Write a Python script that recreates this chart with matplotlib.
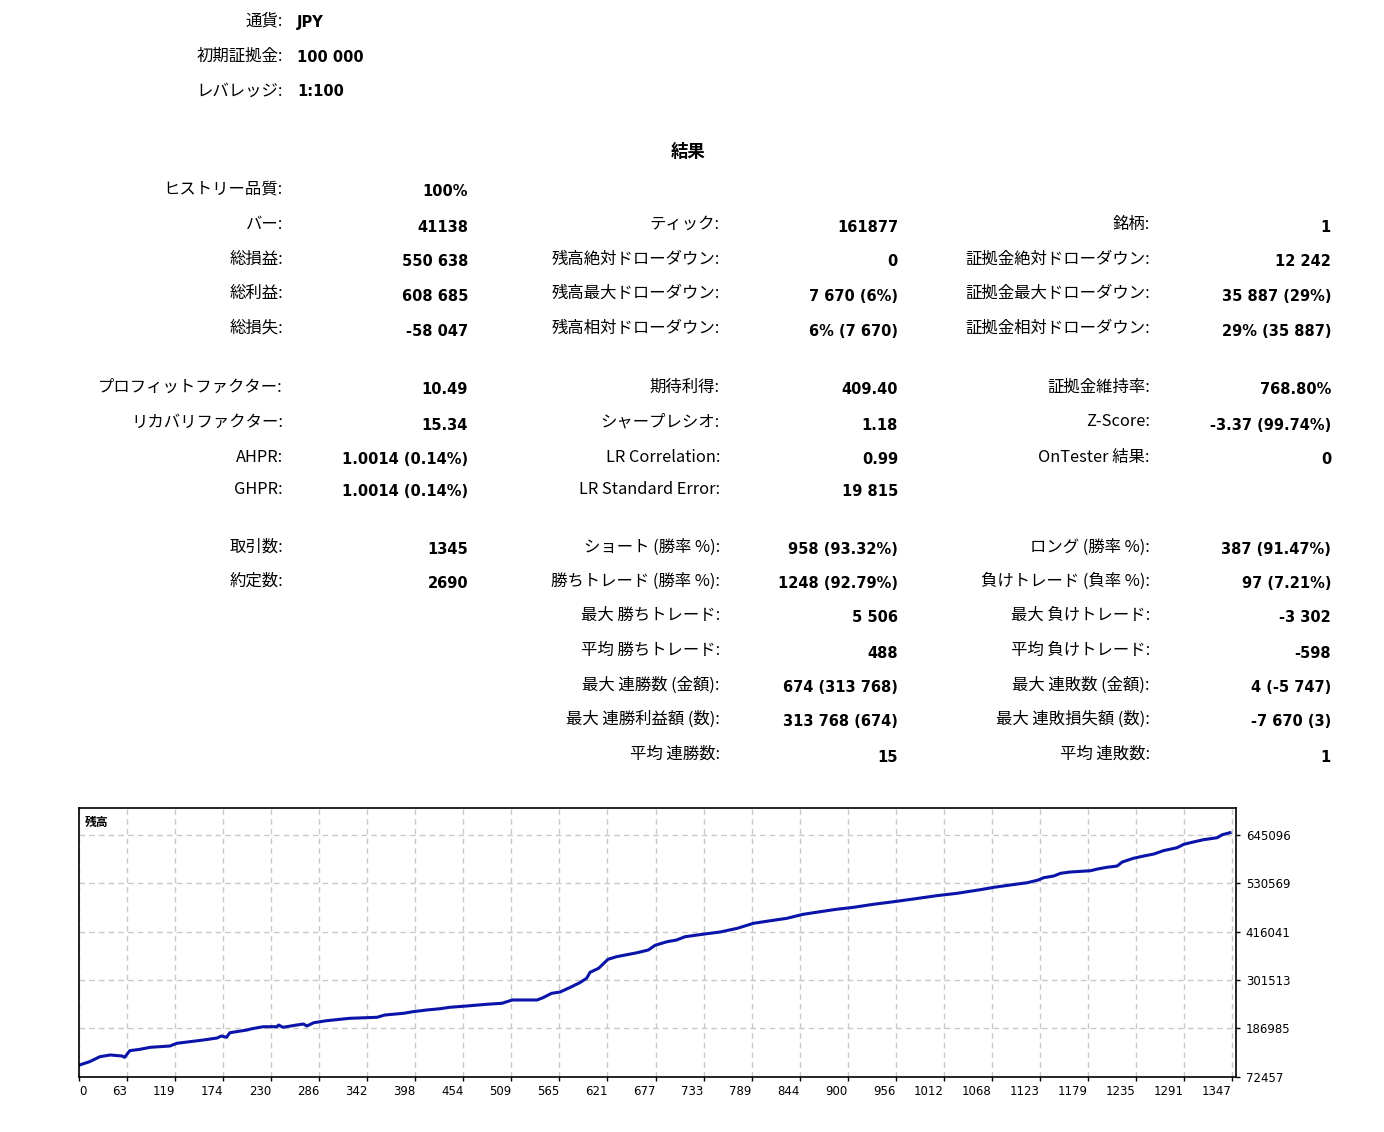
import numpy as np
import matplotlib
matplotlib.use('Agg')
import matplotlib.pyplot as plt

# --- report data ---
header_labels = ['通貨:', '初期証拠金:', 'レバレッジ:']
header_values = ['JPY', '100 000', '1:100']

col1_labels = ['ヒストリー品質:', 'バー:', '総損益:', '総利益:', '総損失:',
               'プロフィットファクター:', 'リカバリファクター:', 'AHPR:', 'GHPR:',
               '取引数:', '約定数:']
col1_values = ['100%', '41138', '550 638', '608 685', '-58 047',
               '10.49', '15.34', '1.0014 (0.14%)', '1.0014 (0.14%)',
               '1345', '2690']

col2_labels = ['ティック:', '残高絶対ドローダウン:', '残高最大ドローダウン:', '残高相対ドローダウン:',
               '期待利得:', 'シャープレシオ:', 'LR Correlation:', 'LR Standard Error:',
               'ショート (勝率 %):', '勝ちトレード (勝率 %):', '最大 勝ちトレード:', '平均 勝ちトレード:',
               '最大 連勝数 (金額):', '最大 連勝利益額 (数):', '平均 連勝数:']
col2_values = ['161877', '0', '7 670 (6%)', '6% (7 670)',
               '409.40', '1.18', '0.99', '19 815',
               '958 (93.32%)', '1248 (92.79%)', '5 506', '488',
               '674 (313 768)', '313 768 (674)', '15']
col2_rows = [1, 2, 3, 4, 5, 6, 7, 8, 9, 10, 11, 12, 13, 14, 15]

col3_labels = ['銘柄:', '証拠金絶対ドローダウン:', '証拠金最大ドローダウン:', '証拠金相対ドローダウン:',
               '証拠金維持率:', 'Z-Score:', 'OnTester 結果:',
               'ロング (勝率 %):', '負けトレード (負率 %):', '最大 負けトレード:', '平均 負けトレード:',
               '最大 連敗数 (金額):', '最大 連敗損失額 (数):', '平均 連敗数:']
col3_values = ['1', '12 242', '35 887 (29%)', '29% (35 887)',
               '768.80%', '-3.37 (99.74%)', '0',
               '387 (91.47%)', '97 (7.21%)', '-3 302', '-598',
               '4 (-5 747)', '-7 670 (3)', '1']
col3_rows = [1, 2, 3, 4, 5, 6, 7, 9, 10, 11, 12, 13, 14, 15]

# balance curve (trade number, balance)
trades = [0, 12, 24, 36, 50, 53, 59, 71, 83, 106, 114, 145, 161, 166, 172, 176,
          196, 202, 215, 231, 233, 238, 254, 262, 266, 274, 289, 316, 348, 357,
          379, 390, 406, 422, 433, 453, 476, 494, 506, 535, 542, 552, 562, 574,
          585, 593, 597, 607, 613, 618, 628, 640, 652, 665, 673, 687, 698, 708,
          728, 749, 769, 788, 808, 827, 846, 866, 885, 905, 928, 952, 975, 1002,
          1026, 1053, 1069, 1088, 1108, 1121, 1127, 1139, 1147, 1158, 1182, 1190,
          1201, 1213, 1219, 1232, 1244, 1256, 1267, 1283, 1291, 1302, 1314, 1330,
          1336, 1345]
balance = [100000, 108000, 119800, 123900, 121500, 118400, 134100, 137400, 142100,
           145200, 151600, 159400, 164100, 168900, 165800, 176700, 183100, 186200,
           190900, 190900, 194900, 189500, 194900, 197300, 192600, 200400, 205100,
           210800, 213200, 218600, 222700, 226500, 230500, 233600, 236900, 240000,
           244000, 246400, 254200, 254200, 259600, 270000, 273100, 284300, 295200,
           305600, 319800, 329300, 341100, 350600, 356800, 361500, 366200, 372600,
           383800, 392300, 396300, 404100, 409800, 415300, 424000, 435900, 442100,
           447700, 457200, 463400, 469100, 473800, 480900, 487100, 493500, 501300,
           507000, 515500, 521200, 526600, 532100, 538500, 543900, 548000, 554400,
           557400, 560500, 564500, 568600, 571600, 581100, 589900, 595300, 600100,
           607900, 615000, 623100, 628500, 634000, 638700, 645800, 650638]

x_tick_labels = ['0', '63', '119', '174', '230', '286', '342', '398', '454', '509',
                 '565', '621', '677', '733', '789', '844', '900', '956', '1012',
                 '1068', '1123', '1179', '1235', '1291', '1347']
y_ticks = [72457, 186985, 301513, 416041, 530569, 645096]

# --- layout ---
W, H = 1384, 1132
fig = plt.figure(figsize=(W / 100, H / 100), dpi=100)
fig.patch.set_facecolor('white')

jp = ['Noto Sans CJK JP', 'DejaVu Sans']
lab_size = 11.8
val_size = 10.5


def put(x, y, s, ha='right', bold=False, size=None, fam=None):
    fig.text(x / W, 1 - y / H, s, ha=ha, va='center',
             fontsize=size or (val_size if bold else lab_size),
             fontweight='bold' if bold else 'normal',
             family=fam or (['DejaVu Sans'] if bold else jp), color='black')


header_y = [20, 55, 90]
for lab, val, y in zip(header_labels, header_values, header_y):
    put(283, y + 1, lab)
    put(297, y + 2, val, ha='left', bold=True)

put(688, 152, '結果', ha='center', size=12.5, fam=['Noto Sans CJK JP'])
fig.texts[-1].set_fontweight('bold')

row_y = [190, 225, 260, 294, 329, 388, 423, 458, 490, 548, 582, 616, 651, 686, 720, 755]
col1_y = [190, 225, 260, 294, 329, 388, 423, 458, 490, 548, 582]
for lab, val, y in zip(col1_labels, col1_values, col1_y):
    put(283, y - 1, lab)
    put(468, y + 2, val, bold=True)

for lab, val, r in zip(col2_labels, col2_values, col2_rows):
    y = row_y[r]
    put(720, y - 1, lab)
    put(898, y + 2, val, bold=True)

for lab, val, r in zip(col3_labels, col3_values, col3_rows):
    y = row_y[r]
    put(1150, y - 1, lab)
    put(1331, y + 2, val, bold=True)

# --- balance chart ---
ax = fig.add_axes([79.3 / W, 1 - 1076.7 / H, (1236 - 79.3) / W, (1076.7 - 808.3) / H])
ax.plot(trades, balance, color='#0a14a8', lw=2.2, solid_joinstyle='round')
ax.set_xlim(0, 1352)
ax.set_ylim(72457, 708400)

xt = np.linspace(0, 1347, len(x_tick_labels))
ax.set_xticks(xt)
ax.set_xticklabels(x_tick_labels, fontsize=8.5)
for i, t in enumerate(ax.get_xticklabels()):
    t.set_ha('left' if i == 0 else 'right')
ax.set_yticks(y_ticks)
ax.set_yticklabels([str(v) for v in y_ticks], fontsize=8.5)
ax.yaxis.tick_right()
ax.tick_params(axis='both', direction='out', length=3, width=1, color='black', pad=3)
ax.tick_params(axis='y', pad=4)
ax.grid(True, color='#c8c8c8', linestyle=(0, (4, 3)), linewidth=1)
for sp in ax.spines.values():
    sp.set_color('black')
    sp.set_linewidth(1.2)
ax.text(0.005, 0.97, '残高', transform=ax.transAxes, ha='left', va='top',
        fontsize=8.5, family=jp, fontweight='bold')

fig.savefig('out.png', dpi=100)
